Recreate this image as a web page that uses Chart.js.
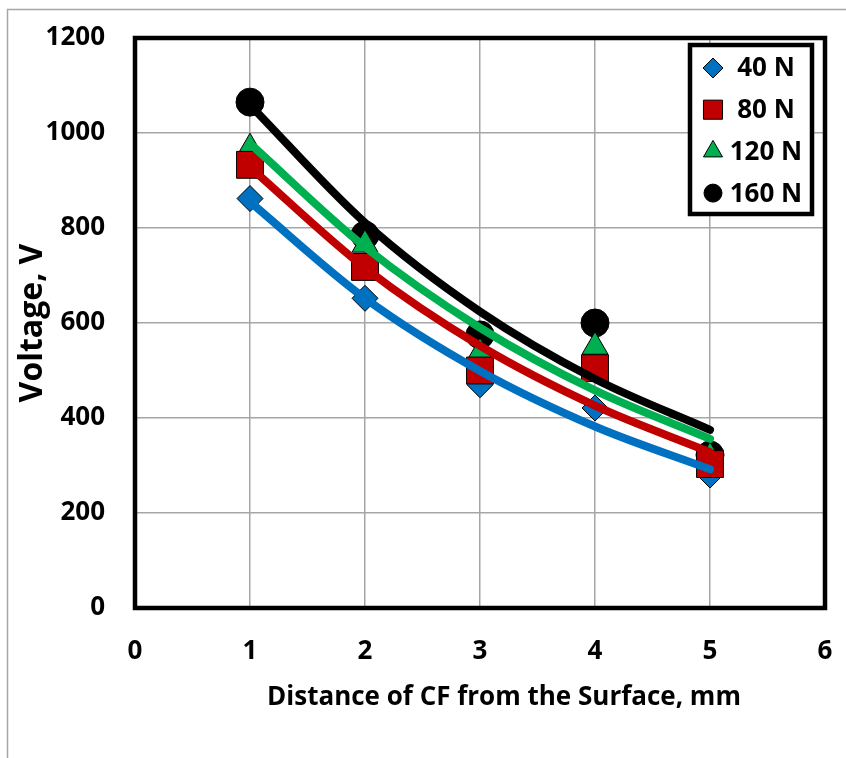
<!DOCTYPE html>
<html>
<head>
<meta charset="utf-8">
<script src="https://cdn.jsdelivr.net/npm/chart.js@4.4.1/dist/chart.umd.min.js"></script>
<style>
  html, body { margin: 0; padding: 0; background: #fff; }
  #wrap { width: 846px; height: 758px; }
</style>
</head>
<body>
<div id="wrap"><canvas id="voltageChart" width="846" height="758"></canvas></div>
<script>
const distances = [1, 2, 3, 4, 5];
const loadLabels = ["40 N", "80 N", "120 N", "160 N"];

const volt40 = [862, 652, 470, 421, 280];
const volt80 = [933, 718, 500, 505, 303];
const volt120 = [968, 765, 537, 550, 318];
const volt160 = [1065, 785, 575, 600, 322];

const trend40 = [855, 652, 499, 382, 292];
const trend80 = [928, 716, 552, 426, 328];
const trend120 = [978, 760, 590, 458, 356];
const trend160 = [1059, 811, 624, 482, 375];

const xTitle = "Distance of CF from the Surface, mm";
const yTitle = "Voltage, V";

const FONT = "'Open Sans', 'DejaVu Sans', sans-serif";

function toPoints(values) {
  return values.map((v, i) => ({ x: distances[i], y: v }));
}

const series = [
  { label: loadLabels[0], values: volt40, trend: trend40, color: "#0070C0", style: "rectRot", r: 13, lr: 10 },
  { label: loadLabels[1], values: volt80, trend: trend80, color: "#C00000", style: "rect", r: 19, lr: 13.5 },
  { label: loadLabels[2], values: volt120, trend: trend120, color: "#00B050", style: "triangle", r: 15, lr: 11 },
  { label: loadLabels[3], values: volt160, trend: trend160, color: "#000000", style: "circle", r: 14, lr: 9 }
];

// first dataset is drawn on top: trendlines above markers
const trendSets = [3, 2, 1, 0].map(i => ({
  label: series[i].label + " trend",
  data: toPoints(series[i].trend),
  showLine: true,
  borderColor: series[i].color,
  borderWidth: 8,
  borderCapStyle: "round",
  cubicInterpolationMode: "monotone",
  pointRadius: 0,
  fill: false
}));

const markerSets = [1, 0, 2, 3].map(i => ({
  label: series[i].label,
  data: toPoints(series[i].values),
  showLine: false,
  pointStyle: series[i].style,
  pointRadius: series[i].r,
  backgroundColor: series[i].color,
  borderColor: "#000000",
  borderWidth: 1
}));

const decorations = {
  id: "decorations",
  beforeDraw(chart) {
    const ctx = chart.ctx;
    ctx.save();
    ctx.fillStyle = "#ffffff";
    ctx.fillRect(0, 0, chart.width, chart.height);
    ctx.strokeStyle = "#A6A6A6";
    ctx.lineWidth = 1.5;
    ctx.strokeRect(7.5, 9.5, chart.width + 20, chart.height + 20);
    ctx.restore();
  },
  afterDraw(chart) {
    const ctx = chart.ctx;
    const a = chart.chartArea;
    ctx.save();
    // plot area border
    ctx.strokeStyle = "#000000";
    ctx.lineWidth = 4.5;
    ctx.strokeRect(a.left, a.top, a.right - a.left, a.bottom - a.top);

    // x axis title
    ctx.fillStyle = "#000000";
    ctx.font = "bold 26px " + FONT;
    ctx.textAlign = "center";
    ctx.textBaseline = "middle";
    ctx.fillText(xTitle, 504, 698);

    // legend
    const box = { left: 690, top: 45, right: 812, bottom: 214 };
    ctx.fillStyle = "#ffffff";
    ctx.fillRect(box.left, box.top, box.right - box.left, box.bottom - box.top);
    ctx.lineWidth = 4.5;
    ctx.strokeStyle = "#000000";
    ctx.strokeRect(box.left, box.top, box.right - box.left, box.bottom - box.top);
    series.forEach((s, i) => {
      const y = 68 + i * 41.7;
      ctx.fillStyle = s.color;
      ctx.strokeStyle = "#000000";
      ctx.lineWidth = 1;
      Chart.helpers.drawPoint(ctx, { pointStyle: s.style, radius: s.lr, borderWidth: 1, rotation: 0 }, 713, y);
      ctx.fillStyle = "#000000";
      ctx.font = "bold 26px " + FONT;
      ctx.textAlign = "center";
      ctx.textBaseline = "middle";
      ctx.fillText(s.label, 766, y + 1);
    });
    ctx.restore();
  }
};

const tickFont = { family: FONT, size: 26, weight: "bold" };
const hiddenTick = "rgba(0,0,0,0)";

new Chart(document.getElementById("voltageChart"), {
  type: "scatter",
  data: { datasets: [...trendSets, ...markerSets] },
  options: {
    responsive: false,
    animation: false,
    events: [],
    layout: { padding: { left: 0, right: 21, top: 38, bottom: 0 } },
    plugins: { legend: { display: false }, tooltip: { enabled: false } },
    scales: {
      x: {
        type: "linear",
        min: 0,
        max: 6,
        afterFit: scale => { scale.height = 150; },
        ticks: { stepSize: 1, color: "#000", font: tickFont, padding: 0 },
        grid: { color: "#A6A6A6", lineWidth: 1.5, drawTicks: true, tickLength: 28, tickColor: hiddenTick },
        border: { display: false }
      },
      y: {
        type: "linear",
        min: 0,
        max: 1200,
        afterFit: scale => { scale.width = 135; },
        ticks: { stepSize: 200, color: "#000", font: tickFont, padding: 0, callback: v => String(v) },
        grid: { color: "#A6A6A6", lineWidth: 1.5, drawTicks: true, tickLength: 30, tickColor: hiddenTick },
        border: { display: false },
        title: {
          display: true,
          text: yTitle,
          color: "#000",
          font: { family: FONT, size: 32, weight: "bold" },
          padding: { top: 14, bottom: 0 }
        }
      }
    }
  },
  plugins: [decorations]
});
</script>
</body>
</html>
